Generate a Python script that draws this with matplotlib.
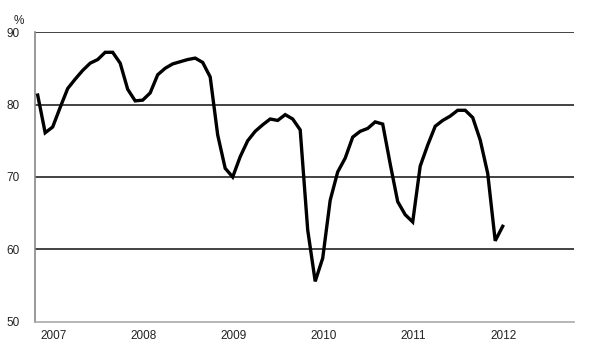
import matplotlib.pyplot as plt

# Monthly values, Jan 2007 - Mar 2012 (%)
values = [81.3, 76.1, 76.9, 79.6, 82.2, 83.5, 84.7, 85.7, 86.2, 87.2, 87.2, 85.7,
          82.1, 80.5, 80.6, 81.6, 84.1, 85.0, 85.6, 85.9, 86.2, 86.4, 85.8, 83.8,
          75.8, 71.2, 70.0, 72.8, 75.0, 76.3, 77.2, 78.0, 77.8, 78.6, 78.0, 76.5,
          62.7, 55.6, 58.8, 66.8, 70.7, 72.6, 75.5, 76.3, 76.7, 77.6, 77.3, 71.8,
          66.6, 64.8, 63.8, 71.5, 74.4, 77.0, 77.8, 78.4, 79.2, 79.2, 78.2, 75.1,
          70.5, 61.2, 63.2]
years = ['2007', '2008', '2009', '2010', '2011', '2012']
y_ticks = [50, 60, 70, 80, 90]

plt.rcParams['font.family'] = ['Liberation Sans', 'DejaVu Sans']

fig = plt.figure(figsize=(5.99, 3.58), dpi=100)
ax = fig.add_axes([0.0584, 0.1006, 0.8998, 0.81])

# horizontal gridlines
for v in y_ticks[1:]:
    ax.axhline(v, color='#222222', lw=1.2, zorder=1)

ax.plot(range(len(values)), values, color='black', lw=2.4, zorder=3,
        solid_joinstyle='miter')

ax.set_xlim(-0.36, 71.5)
ax.set_ylim(50, 90)
ax.set_yticks(y_ticks)
ax.set_yticklabels([str(v) for v in y_ticks], fontsize=8.5, color='#222222')
ax.set_xticks([2.08 + 12 * k for k in range(len(years))])
ax.set_xticklabels(years, fontsize=8.5, color='#222222')
ax.tick_params(length=0)
ax.tick_params(axis='y', pad=11)
ax.tick_params(axis='x', pad=6)

for s in ['top', 'right']:
    ax.spines[s].set_visible(False)
ax.spines['left'].set_color('#888888')
ax.spines['bottom'].set_color('#aaaaaa')
ax.spines['left'].set_linewidth(1.2)
ax.spines['bottom'].set_linewidth(1.2)

fig.text(19 / 599, 1 - 21.5 / 358, '%', ha='center', va='center',
         fontsize=8.5, color='#222222')

fig.savefig('out.png', dpi=100)
